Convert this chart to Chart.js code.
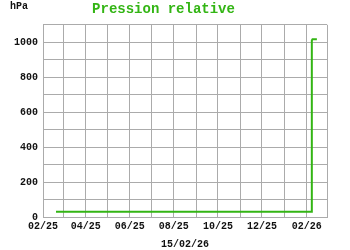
<!DOCTYPE html>
<html>
<head>
<meta charset="utf-8">
<script src="https://cdn.jsdelivr.net/npm/chart.js@4.4.1/dist/chart.umd.min.js"></script>
<style>
  html,body{margin:0;padding:0;background:#fff}
  .wrap{width:350px;height:250px;position:relative}
</style>
</head>
<body>
<div class="wrap"><canvas id="pression-chart"></canvas></div>
<script>
// data
const dates  = ['2025-02-19','2026-02-07','2026-02-08','2026-02-09','2026-02-15'];
const values = [30, 30, 1010, 1018, 1018];
const monthTicks = ['2025-02-01','2025-03-01','2025-04-01','2025-05-01','2025-06-01','2025-07-01','2025-08-01',
                    '2025-09-01','2025-10-01','2025-11-01','2025-12-01','2026-01-01','2026-02-01','2026-03-01'];
const tickLabels = ['02/25','','04/25','','06/25','','08/25','','10/25','','12/25','','02/26',''];
const yLabels = {0:'0',200:'200',400:'400',600:'600',800:'800',1000:'1000'};

const GREEN='#33b514', GRID='#ababab', FONT='"Liberation Mono", "Courier New", monospace';
const day0=Date.UTC(2025,1,1);
const toDay=s=>{const [y,m,d]=s.split('-').map(Number);return (Date.UTC(y,m-1,d)-day0)/86400000;};
const tickDays=monthTicks.map(toDay);

const unitLabel={
  id:'unitLabel',
  afterDraw(chart){
    const c=chart.ctx;
    c.save();
    c.font='bold 10px '+FONT;
    c.fillStyle='#111';
    c.textBaseline='middle';
    c.fillText('hPa',10,6);
    c.restore();
  }
};

new Chart(document.getElementById('pression-chart'),{
  type:'line',
  data:{
    datasets:[{
      data:dates.map((d,i)=>({x:toDay(d),y:values[i]})),
      borderColor:GREEN,
      borderWidth:2,
      pointRadius:0,
      tension:0,
      fill:false,
    }],
  },
  options:{
    responsive:true, maintainAspectRatio:false, animation:false,
    layout:{padding:{left:0,right:23,top:1,bottom:0}},
    plugins:{
      legend:{display:false},
      tooltip:{enabled:false},
      title:{display:true,text:'Pression relative',color:GREEN,
             font:{family:FONT,size:14,weight:'bold',lineHeight:1.2},
             padding:{top:0,bottom:7}},
    },
    scales:{
      x:{type:'linear',min:tickDays[0],max:tickDays[tickDays.length-1],
         afterBuildTicks:s=>{s.ticks=tickDays.map(v=>({value:v}));},
         afterFit:s=>{s.height=33;},
         grid:{color:GRID,drawTicks:false},
         border:{color:GRID},
         ticks:{autoSkip:false,maxRotation:0,padding:3,color:'#111',
                font:{family:FONT,size:10,weight:'bold'},
                callback:(v,i)=>tickLabels[i]},
         title:{display:true,text:'15/02/26',color:'#111',
                font:{family:FONT,size:10,weight:'bold'},
                padding:{top:6,bottom:0}}},
      y:{min:0,max:1100,
         afterFit:s=>{s.width=43;},
         grid:{color:GRID,drawTicks:false},
         border:{color:GRID},
         ticks:{stepSize:100,padding:5,color:'#111',
                font:{family:FONT,size:10,weight:'bold'},
                callback:v=>yLabels[v]||''}},
    },
  },
  plugins:[unitLabel],
});
</script>
</body>
</html>
